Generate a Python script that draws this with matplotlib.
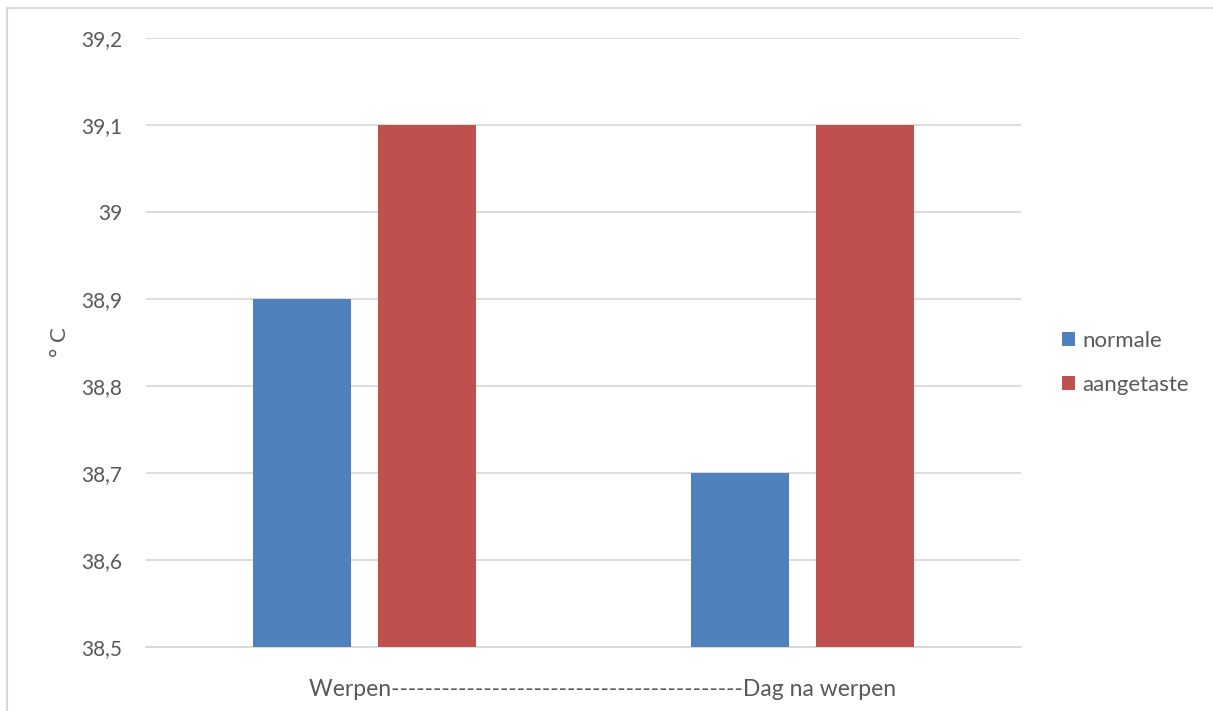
import matplotlib
matplotlib.use('Agg')
import matplotlib.pyplot as plt
from matplotlib.patches import Patch, Rectangle
from matplotlib.ticker import FuncFormatter, MultipleLocator
import numpy as np

plt.rcParams['font.family'] = ['Lato', 'DejaVu Sans']

categories = ['Werpen', 'Dag na werpen']
series_names = ['normale', 'aangetaste']
normale = [38.9, 38.7]
aangetaste = [39.1, 39.1]
colors = ['#4F81BD', '#C0504D']
text_col = '#595959'
grid_col = '#D9D9D9'

W, H = 1213, 711
fig = plt.figure(figsize=(W / 100, H / 100), dpi=100)
ax = fig.add_axes([146 / W, 1 - 647 / H, (1021 - 146) / W, (647 - 38) / H])

x = np.arange(len(categories))
w = 0.224
off = 0.1429
ax.bar(x - off, normale, w, color=colors[0], zorder=3)
ax.bar(x + off, aangetaste, w, color=colors[1], zorder=3)

ax.set_xlim(-0.5, 1.5)
ax.set_ylim(38.5, 39.2)
ax.yaxis.set_major_locator(MultipleLocator(0.1))
ax.yaxis.set_major_formatter(FuncFormatter(lambda v, p: ('%g' % round(v, 2)).replace('.', ',')))
ax.grid(axis='y', color=grid_col, linewidth=1.3, zorder=0)
for s in ['left', 'right', 'top']:
    ax.spines[s].set_visible(False)
ax.spines['bottom'].set_color(grid_col)
ax.spines['bottom'].set_linewidth(1.3)
ax.tick_params(axis='y', length=0, pad=17, labelsize=15, labelcolor=text_col)
ax.set_xticks([])

# axis titles placed by hand, like the Excel layout
fig.text(60 / W, 1 - 342 / H, '° C', rotation=90, ha='center', va='center',
         fontsize=16, color=text_col)
fig.text(603 / W, 1 - 690 / H, categories[0] + '-' * 42 + categories[1],
         ha='center', va='center', fontsize=16.5, color=text_col)

handles = [Patch(facecolor=c) for c in colors]
fig.legend(handles, series_names, loc='center left', bbox_to_anchor=(1042 / W, 1 - 363 / H),
           frameon=False, fontsize=16, labelcolor=text_col, handlelength=0.6, handleheight=0.6,
           handletextpad=0.3, labelspacing=1.1)

# chart area border (cropped on right and bottom)
fig.patches.append(Rectangle((7 / W, -0.1), 1.2, 1.1 - 8 / H, transform=fig.transFigure,
                             fill=False, edgecolor=grid_col, linewidth=1.5))

fig.savefig('out.png', dpi=100)
